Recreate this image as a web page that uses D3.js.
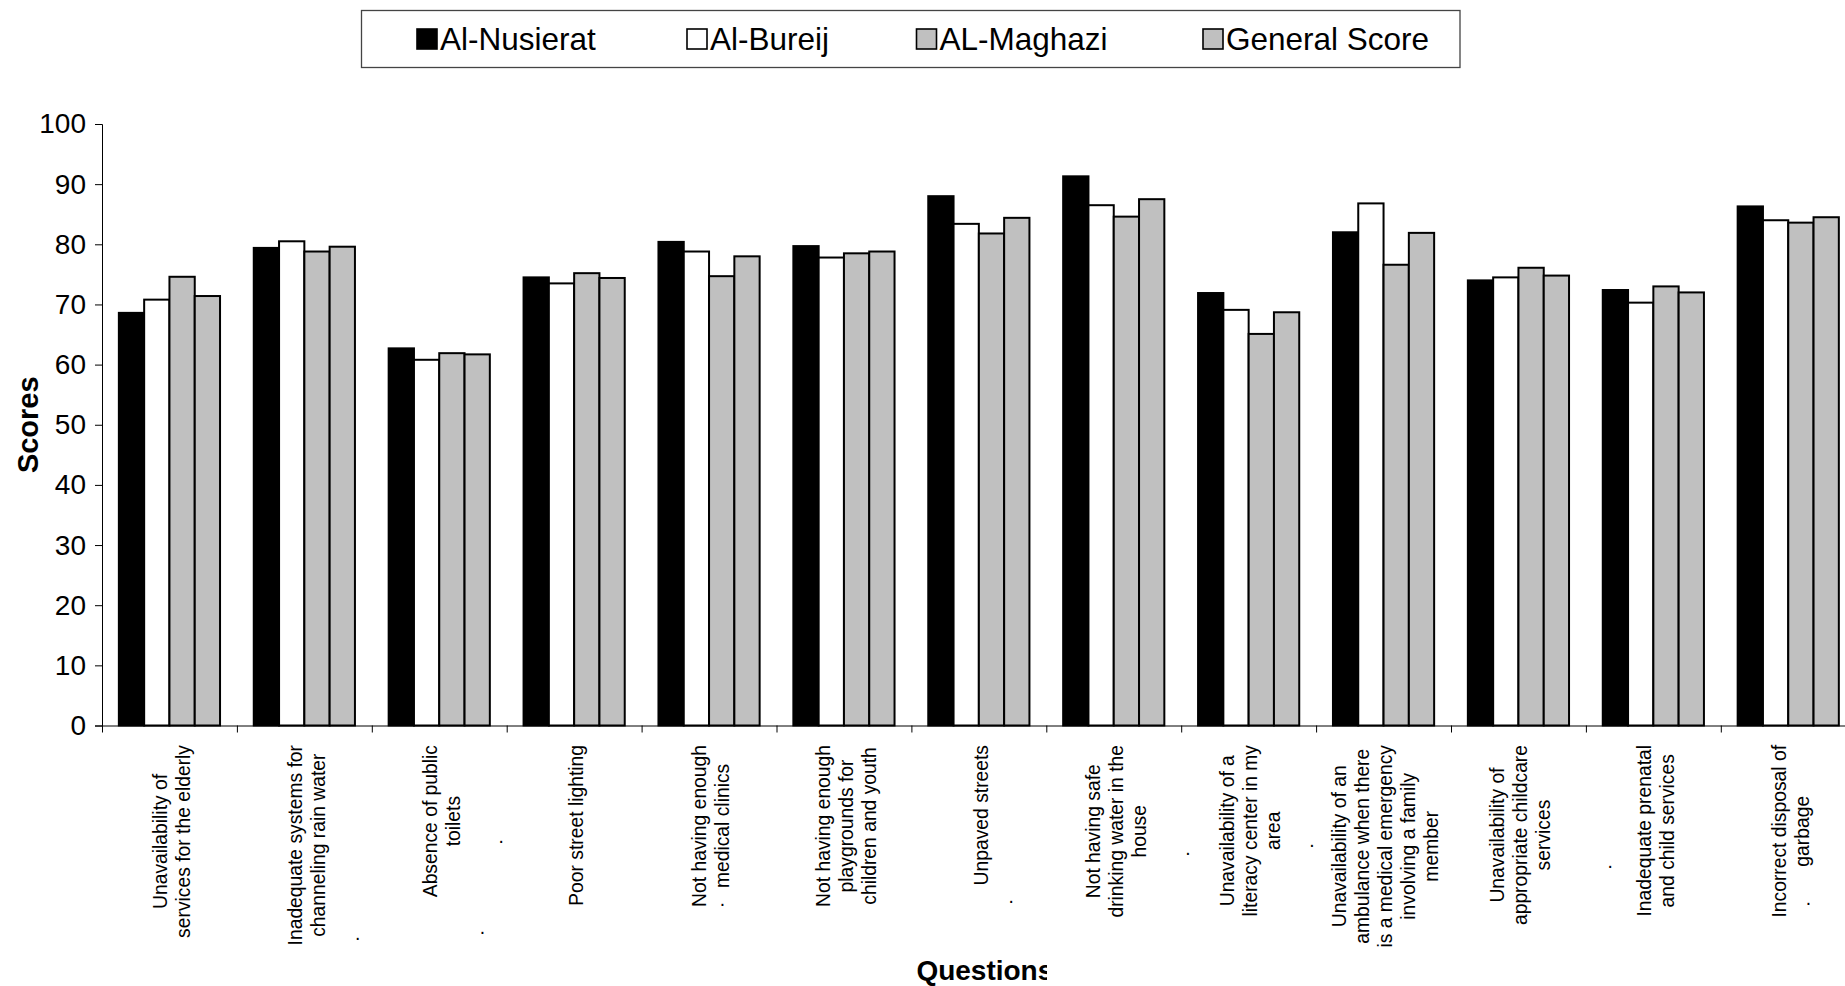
<!DOCTYPE html>
<html>
<head>
<meta charset="utf-8">
<script src="https://cdn.jsdelivr.net/npm/d3@7"></script>
<style>
  html, body { margin: 0; padding: 0; background: #fff; }
  svg { display: block; font-family: "Liberation Sans", Arial, sans-serif; }
</style>
</head>
<body>
<svg id="chart" width="1845" height="986"></svg>
<script>
// ---------------- DATA ----------------
const categories = [
  ["Unavailability of", "services for the elderly"],
  ["Inadequate systems for", "channeling rain water"],
  ["Absence of public", "toilets"],
  ["Poor street lighting"],
  ["Not having enough", "medical clinics"],
  ["Not having enough", "playgrounds for", "children and youth"],
  ["Unpaved streets"],
  ["Not having safe", "drinking water in the", "house"],
  ["Unavailability of a", "literacy center in my", "area"],
  ["Unavailability of an", "ambulance when there", "is a medical emergency", "involving a family", "member"],
  ["Unavailability of", "appropriate childcare", "services"],
  ["Inadequate prenatal", "and child services"],
  ["Incorrect disposal of", "garbage"]
];
const seriesNames = ["Al-Nusierat", "Al-Bureij", "AL-Maghazi", "General Score"];
const nusierat = [68.6, 79.4, 62.7, 74.5, 80.4, 79.7, 88.0, 91.3, 71.9, 82.0, 74.0, 72.4, 86.3];
const bureij   = [70.8, 80.5, 60.8, 73.5, 78.8, 77.8, 83.4, 86.5, 69.1, 86.8, 74.5, 70.3, 84.0];
const maghazi  = [74.6, 78.8, 61.9, 75.2, 74.7, 78.5, 81.8, 84.6, 65.1, 76.6, 76.1, 73.0, 83.6];
const general  = [71.4, 79.6, 61.7, 74.4, 78.0, 78.8, 84.4, 87.5, 68.7, 81.9, 74.8, 72.0, 84.5];
const yTicks = [0, 10, 20, 30, 40, 50, 60, 70, 80, 90, 100];
const yTitle = "Scores";
const xTitle = "Questions";
// stray "." marks under the category labels: [position in category units, offset below axis]
const labelDots = [[1.895, 212], [2.96, 115], [2.82, 206], [4.60, 178], [6.74, 175], [8.05, 127], [8.97, 119], [11.18, 140], [12.65, 177]];

// ---------------- STYLE / LAYOUT ----------------
const fills = ["#000000", "#ffffff", "#c0c0c0", "#c0c0c0"];
const plotLeft = 102, plotTop = 124, plotBottom = 725.5, catStep = 134.9;
const nCat = categories.length;
const plotRight = plotLeft + nCat * catStep;

const svg = d3.select("#chart");
const seriesValues = [nusierat, bureij, maghazi, general];

const x0 = d3.scaleBand().domain(d3.range(nCat)).range([plotLeft, plotRight])
  .paddingInner(0.25).paddingOuter(0.125);
const x1 = d3.scaleBand().domain(d3.range(seriesNames.length)).range([0, x0.bandwidth()]);
const xb = d3.scaleLinear().domain([0, nCat]).range([plotLeft, plotRight]);
const y = d3.scaleLinear().domain([0, 100]).range([plotBottom, plotTop]);

// bars
const groups = svg.append("g").selectAll("g").data(d3.range(nCat)).join("g")
  .attr("transform", i => `translate(${x0(i)},0)`);
groups.selectAll("rect")
  .data(i => seriesValues.map((vals, s) => ({ s, v: vals[i] })))
  .join("rect")
  .attr("x", d => x1(d.s))
  .attr("y", d => y(d.v))
  .attr("width", x1.bandwidth())
  .attr("height", d => y(0) - y(d.v))
  .attr("fill", d => fills[d.s])
  .attr("stroke", "#000")
  .attr("stroke-width", 2);

// y axis
const yAxis = svg.append("g").attr("transform", `translate(${plotLeft},0)`)
  .call(d3.axisLeft(y).tickValues(yTicks).tickSize(7).tickPadding(9).tickFormat(d3.format("d")));
yAxis.selectAll("text").attr("font-size", 28).attr("fill", "#000")
  .attr("font-family", "'Liberation Sans', Arial, sans-serif");
yAxis.selectAll("line,path").attr("stroke", "#000");

// x axis (ticks between categories)
const xAxis = svg.append("g").attr("transform", `translate(0,${plotBottom})`)
  .call(d3.axisBottom(xb).tickValues(d3.range(nCat + 1)).tickSize(7).tickSizeOuter(0).tickFormat(""));
xAxis.selectAll("line,path").attr("stroke", "#000");

// category labels (rotated, multi-line, top aligned near axis)
const labelTop = 745, lineH = 23, labelFs = 19.3;
const labG = svg.append("g");
categories.forEach((lines, i) => {
  const cx = x0(i) + x0.bandwidth() / 2 + 2;
  const n = lines.length;
  const tmp = labG.append("text").attr("font-size", labelFs);
  let maxL = 0;
  lines.forEach(t => { tmp.text(t); maxL = Math.max(maxL, tmp.node().getComputedTextLength()); });
  tmp.remove();
  const yc = labelTop + maxL / 2;
  lines.forEach((t, k) => {
    const lx = cx + (k - (n - 1) / 2) * lineH;
    labG.append("text")
      .attr("transform", `translate(${lx},${yc}) rotate(-90)`)
      .attr("text-anchor", "middle")
      .attr("dy", "0.35em")
      .attr("font-size", labelFs)
      .attr("fill", "#000")
      .text(t);
  });
});
labG.selectAll("text.dot").data(labelDots).join("text").attr("class", "dot")
  .attr("x", d => xb(d[0])).attr("y", d => plotBottom + d[1] + 2)
  .attr("text-anchor", "middle").attr("font-size", labelFs).text(".");

// axis titles
svg.append("text")
  .attr("transform", `translate(38,${(plotTop + plotBottom) / 2}) rotate(-90)`)
  .attr("text-anchor", "middle").attr("font-size", 29).attr("font-weight", "bold").text(yTitle);

svg.append("clipPath").attr("id", "titleClip")
  .append("rect").attr("x", 0).attr("y", 900).attr("width", 1047).attr("height", 86);
svg.append("text")
  .attr("clip-path", "url(#titleClip)")
  .attr("x", (plotLeft + plotRight) / 2 + 6).attr("y", 980)
  .attr("text-anchor", "middle").attr("font-size", 28).attr("font-weight", "bold").text(xTitle);

// legend
const legend = svg.append("g");
legend.append("rect").attr("x", 361.5).attr("y", 10.5).attr("width", 1098.5).attr("height", 57)
  .attr("fill", "#fff").attr("stroke", "#444").attr("stroke-width", 1.3);
const legendX = [417, 687, 916.5, 1203];
seriesNames.forEach((name, s) => {
  legend.append("rect").attr("x", legendX[s]).attr("y", 29).attr("width", 20).attr("height", 20)
    .attr("fill", fills[s]).attr("stroke", "#000").attr("stroke-width", 1.6);
  legend.append("text").attr("x", legendX[s] + 23).attr("y", 49.5)
    .attr("font-size", 31.5).attr("fill", "#000").text(name);
});
</script>
</body>
</html>
